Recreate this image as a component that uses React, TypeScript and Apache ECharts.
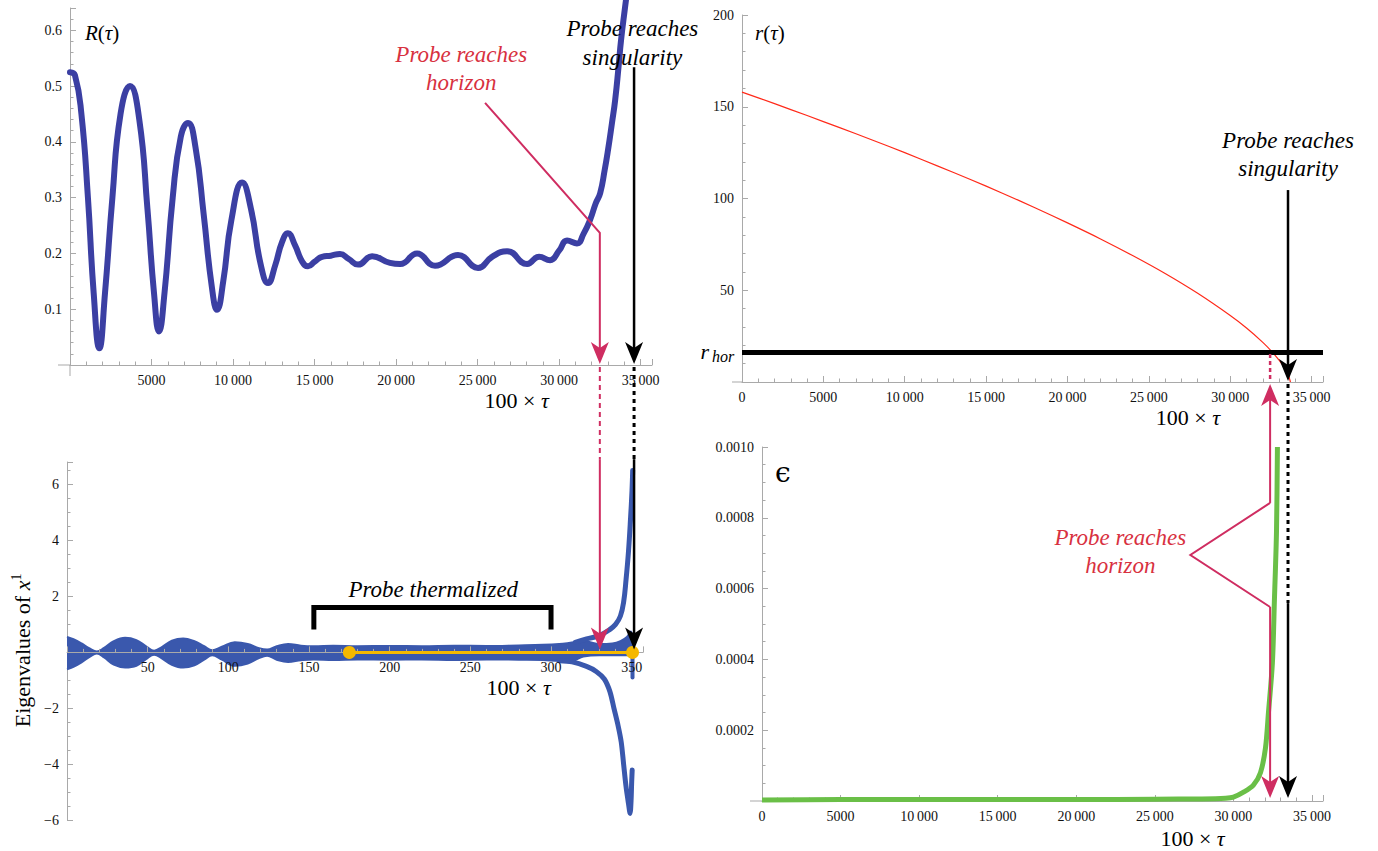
import React, { useEffect, useRef } from "react";
import * as echarts from "echarts";

// ---------------- data ----------------
// Panel A: R(tau), x = 100*tau
const R_TAU: number[] = [0, 300, 700, 1100, 1450, 1800, 2150, 2600, 3100, 3680, 4250, 4750, 5150, 5460, 5800, 6300, 6800, 7240, 7700, 8200, 8700, 9020, 9400, 9900, 10560, 11100, 11700, 12150, 12600, 13000, 13370, 13800, 14250, 14600, 15000, 15460, 16000, 16560, 17100, 17670, 18530, 19630, 20250, 21290, 22390, 23800, 25030, 25890, 26810, 28040, 28770, 29450, 30000, 30490, 31100, 31500, 31900, 32250, 32520, 32800, 33000, 33250, 33440, 33650, 33800, 34050, 34150];
const R_VAL: number[] = [0.525, 0.52, 0.45, 0.3, 0.13, 0.03, 0.13, 0.3, 0.45, 0.5, 0.44, 0.28, 0.13, 0.06, 0.13, 0.3, 0.41, 0.434, 0.39, 0.27, 0.14, 0.099, 0.15, 0.26, 0.327, 0.28, 0.18, 0.147, 0.18, 0.22, 0.236, 0.215, 0.185, 0.177, 0.185, 0.194, 0.196, 0.199, 0.19, 0.18, 0.195, 0.183, 0.181, 0.2, 0.178, 0.197, 0.174, 0.194, 0.204, 0.181, 0.194, 0.188, 0.205, 0.223, 0.218, 0.235, 0.26, 0.29, 0.308, 0.35, 0.385, 0.435, 0.475, 0.535, 0.582, 0.642, 0.665];

// Panel B: eigenvalues of x^1, x = 100*tau
const EIG_UP_X: number[] = [0, 4, 9, 14, 18.5, 23, 29, 36, 43, 49, 54, 59, 65, 72, 79, 85, 90, 96, 104, 112, 119, 124, 130, 137, 145, 153, 165, 180, 200, 220, 240, 260, 280, 295, 305, 315, 322, 330, 338, 343, 347, 349.5, 350.5];
const EIG_UP_Y: number[] = [0.55, 0.47, 0.32, 0.14, 0.03, 0.16, 0.4, 0.52, 0.44, 0.22, 0.06, 0.2, 0.42, 0.5, 0.4, 0.22, 0.08, 0.2, 0.36, 0.3, 0.15, 0.1, 0.22, 0.3, 0.24, 0.22, 0.24, 0.22, 0.23, 0.22, 0.24, 0.23, 0.25, 0.27, 0.3, 0.36, 0.38, 0.3, 0.32, 0.4, 0.55, 0.75, 0.2];
const EIG_LO_X: number[] = [0, 4, 9, 14, 18.5, 23, 29, 36, 43, 49, 54, 59, 65, 72, 79, 85, 90, 96, 104, 112, 119, 124, 130, 137, 145, 153, 165, 180, 200, 220, 240, 260, 280, 295, 305, 313, 320, 330, 340, 350.5];
const EIG_LO_Y: number[] = [-0.6, -0.52, -0.36, -0.16, -0.04, -0.18, -0.44, -0.54, -0.48, -0.24, -0.08, -0.22, -0.44, -0.54, -0.46, -0.26, -0.1, -0.26, -0.48, -0.4, -0.2, -0.12, -0.26, -0.34, -0.28, -0.25, -0.27, -0.25, -0.26, -0.25, -0.27, -0.25, -0.26, -0.27, -0.3, -0.3, -0.15, -0.1, -0.1, -0.1];
const BRANCH_UP_X: number[] = [315, 322, 330, 336, 340, 343, 345, 346.5, 348, 349.3, 350.2, 350.6];
const BRANCH_UP_Y: number[] = [0.36, 0.48, 0.6, 0.8, 1.0, 1.3, 1.8, 2.6, 3.6, 4.8, 5.8, 6.5];
const BRANCH_DN_X: number[] = [305, 313, 322, 328, 333, 336.5, 339, 341.5, 343.5, 345, 346.5, 348, 349, 349.6, 350, 350.3];
const BRANCH_DN_Y: number[] = [-0.3, -0.34, -0.5, -0.68, -0.95, -1.4, -2.0, -2.6, -3.2, -4.0, -4.8, -5.4, -5.75, -5.3, -4.6, -4.2];
const BRANCH_STUB_X: number[] = [350.5, 350.5];
const BRANCH_STUB_Y: number[] = [0, -0.9];
const THERMAL_X: number[] = [175, 350.5];
const THERMAL_Y: number[] = [0, 0];

// Panel C: r(tau)
const r_TAU: number[] = [0, 2000, 4000, 6000, 8000, 10000, 12000, 14000, 16000, 18000, 20000, 22000, 24000, 26000, 28000, 30000, 31000, 32000, 32500, 33000, 33400, 33600, 33700];
const r_VAL: number[] = [158, 151.7, 145.2, 138.6, 131.9, 125, 117.8, 110.5, 102.9, 95, 86.7, 78.1, 68.9, 59.1, 48.3, 36.2, 29.4, 21.6, 17.1, 11.9, 6.8, 3, 0];
const R_HOR = 16.3;

// Panel D: epsilon
const EPS_TAU: number[] = [0, 5000, 10000, 15000, 20000, 25000, 28000, 29500, 30000, 30640, 31270, 31720, 32040, 32230, 32480, 32610, 32740, 32800];
const EPS_VAL: number[] = [0.000003, 0.000004, 0.000004, 0.000004, 0.000004, 0.000005, 0.000006, 0.000008, 0.000011, 0.000025, 0.000045, 0.00008, 0.00015, 0.00025, 0.00039, 0.00057, 0.00076, 0.001];

// annotation anchors (data units)
const HORIZON_L = 32500;
const SING_L = 34600;
const HORIZON_R = 32450;
const SING_R = 33550;

// ---------------- styling ----------------
const SERIF = "Liberation Serif";
const GRAY = "#a9a9a9";
const BLUE_A = "#3b3fa3";
const BLUE_B = "#3a58ad";
const GOLD = "#f5b800";
const RED = "#cf2d61";
const RED_TEXT = "#d8313f";
const GREEN = "#6abf47";

const zip = (xs: number[], ys: number[]) => xs.map((x, i) => [x, ys[i]]);

const thin = (v: number) => {
  const s = String(Math.round(v));
  return Math.abs(v) >= 10000 ? s.slice(0, s.length - 3) + "\u2009" + s.slice(-3) : s;
};
const tok = (s: string) => (s === "" ? "" : "{a|" + s + "}");

function axis(o: any) {
  return {
    type: "value",
    gridIndex: o.grid,
    min: o.min,
    max: o.max,
    interval: o.interval,
    offset: o.offset || 0,
    z: o.z,
    axisLine: { show: true, onZero: false, lineStyle: { color: GRAY, width: 1 } },
    axisTick: { show: true, inside: true, length: 6, lineStyle: { color: GRAY } },
    minorTick: { show: true, splitNumber: o.minor, length: 3.5, lineStyle: { color: GRAY } },
    splitLine: { show: false },
    minorSplitLine: { show: false },
    axisLabel: {
      fontFamily: SERIF,
      fontSize: 14,
      color: "#111",
      margin: 8,
      showMinLabel: o.showMin !== false,
      showMaxLabel: !!o.showMax,
      formatter: (v: number) => tok(o.fmt(v)),
      rich: { a: { fontFamily: SERIF, fontSize: 14, color: "#111" } },
    },
  };
}

function buildOption() {
  return {
    animation: false,
    backgroundColor: "#fff",
    textStyle: { fontFamily: SERIF },
    grid: [
      { left: 70, top: 8, width: 582, height: 357, outerBoundsMode: "none" },
      { left: 67, top: 462, width: 576, height: 358.4, outerBoundsMode: "none" },
      { left: 742, top: 15, width: 581, height: 367, outerBoundsMode: "none" },
      { left: 762, top: 447, width: 561, height: 354, outerBoundsMode: "none" },
    ],
    xAxis: [
      axis({ grid: 0, min: 0, max: 35700, interval: 5000, minor: 5, showMin: false, fmt: (v: number) => thin(v) }),
      // offset lifts the axis onto y = 0 (6 units of 28 px above the grid bottom)
      axis({ grid: 1, min: 0, max: 357, interval: 50, minor: 5, showMin: false, offset: -168, z: 10, fmt: (v: number) => (v === 0 ? "" : String(v)) }),
      axis({ grid: 2, min: 0, max: 35700, interval: 5000, minor: 5, fmt: (v: number) => thin(v) }),
      axis({ grid: 3, min: 0, max: 35700, interval: 5000, minor: 5, fmt: (v: number) => thin(v) }),
    ],
    yAxis: [
      axis({ grid: 0, min: 0, max: 0.64, interval: 0.1, minor: 5, showMin: false, fmt: (v: number) => v.toFixed(1) }),
      axis({ grid: 1, min: -6, max: 6.8, interval: 2, minor: 4, fmt: (v: number) => (Math.abs(v) < 1e-9 ? "" : v < 0 ? "\u2212" + Math.abs(v) : String(v)) }),
      axis({ grid: 2, min: 0, max: 200, interval: 50, minor: 5, showMin: false, showMax: true, fmt: (v: number) => String(v) }),
      axis({ grid: 3, min: 0, max: 0.001, interval: 0.0002, minor: 4, showMin: false, showMax: true, fmt: (v: number) => v.toFixed(4) }),
    ],
    series: [
      {
        type: "line", xAxisIndex: 0, yAxisIndex: 0, data: zip(R_TAU, R_VAL), smooth: 0.5, symbol: "none", clip: false,
        lineStyle: { color: BLUE_A, width: 6, cap: "round", join: "round" },
      },
      {
        type: "line", xAxisIndex: 1, yAxisIndex: 1, data: zip(EIG_UP_X, EIG_UP_Y), smooth: 0.4, symbol: "none",
        lineStyle: { color: BLUE_B, width: 2 }, areaStyle: { color: BLUE_B, opacity: 1, origin: 0 },
      },
      {
        type: "line", xAxisIndex: 1, yAxisIndex: 1, data: zip(EIG_LO_X, EIG_LO_Y), smooth: 0.4, symbol: "none",
        lineStyle: { color: BLUE_B, width: 2 }, areaStyle: { color: BLUE_B, opacity: 1, origin: 0 },
      },
      {
        type: "line", xAxisIndex: 1, yAxisIndex: 1, data: zip(BRANCH_UP_X, BRANCH_UP_Y), smooth: 0.4, symbol: "none",
        lineStyle: { color: BLUE_B, width: 5, cap: "round" },
      },
      {
        type: "line", xAxisIndex: 1, yAxisIndex: 1, data: zip(BRANCH_DN_X, BRANCH_DN_Y), smooth: 0.3, symbol: "none",
        lineStyle: { color: BLUE_B, width: 5, cap: "round" },
      },
      {
        type: "line", xAxisIndex: 1, yAxisIndex: 1, data: zip(BRANCH_STUB_X, BRANCH_STUB_Y), symbol: "none",
        lineStyle: { color: BLUE_B, width: 4, cap: "round" },
      },
      {
        type: "line", xAxisIndex: 1, yAxisIndex: 1, data: zip(THERMAL_X, THERMAL_Y), symbol: "circle", symbolSize: 13, z: 12,
        itemStyle: { color: GOLD }, lineStyle: { color: GOLD, width: 3 },
      },
      {
        type: "line", xAxisIndex: 2, yAxisIndex: 2, data: zip(r_TAU, r_VAL), smooth: 0.3, symbol: "none",
        lineStyle: { color: "#ff2a1a", width: 1.2 },
        markLine: {
          silent: true, symbol: "none", label: { show: false },
          lineStyle: { color: "#000", width: 5, type: "solid" },
          data: [{ yAxis: R_HOR }],
        },
      },
      {
        type: "line", xAxisIndex: 3, yAxisIndex: 3, data: zip(EPS_TAU, EPS_VAL), smooth: 0.3, symbol: "none",
        lineStyle: { color: GREEN, width: 5 },
      },
    ],
  };
}

function buildGraphics(chart: any) {
  const px = (g: number, x: number, y: number) => chart.convertToPixel({ gridIndex: g }, [x, y]) as number[];
  const els: any[] = [];
  const line = (x1: number, y1: number, x2: number, y2: number, color: string, w: number, dash?: number[]) =>
    els.push({ type: "line", silent: true, z: 50, shape: { x1, y1, x2, y2 }, style: { stroke: color, lineWidth: w, lineDash: dash || null } });
  const poly = (pts: number[][], color: string, w: number) =>
    els.push({ type: "polyline", silent: true, z: 50, shape: { points: pts }, style: { stroke: color, lineWidth: w, fill: null, lineJoin: "miter" } });
  const head = (x: number, tip: number, dir: "up" | "down", color: string) => {
    const s = dir === "down" ? -1 : 1;
    els.push({
      type: "polygon", silent: true, z: 51,
      shape: { points: [[x, tip], [x - 9, tip + s * 22], [x, tip + s * 16], [x + 9, tip + s * 22]] },
      style: { fill: color },
    });
  };
  // all texts are rich text: token t = main style, n = upright, i = italic, s = superscript
  const text = (x: number, y: number, t: string, o: any = {}) => {
    const size = o.size || 22;
    const fill = o.color || "#000";
    const fam = o.family || SERIF;
    const fs = o.italic === false ? "normal" : "italic";
    const lh = o.lh || Math.round(size * 1.2);
    const body = o.raw ? t : t.split("\n").map((l) => "{t|" + l + "}").join("\n");
    els.push({
      type: "text", silent: true, z: 52, x, y, rotation: o.rotation || 0,
      style: {
        text: body, fill, fontFamily: fam, fontSize: size, fontStyle: fs,
        align: o.align || "center", verticalAlign: o.valign || "middle",
        textAlign: o.align || "center", textVerticalAlign: o.valign || "middle",
        lineHeight: lh,
        rich: {
          t: { fontFamily: fam, fontSize: size, fontStyle: fs, fill, lineHeight: lh },
          n: { fontFamily: fam, fontSize: size, fontStyle: "normal", fill, lineHeight: lh },
          i: { fontFamily: fam, fontSize: size, fontStyle: "italic", fill, lineHeight: lh },
          s: { fontFamily: fam, fontSize: 14, fontStyle: "normal", fill, verticalAlign: "top", padding: [0, 0, 10, 0] },
        },
      },
    });
  };

  // ---- left column ----
  const [x0L, y0L] = px(0, 0, 0);
  const hxL = px(0, HORIZON_L, 0)[0];
  const sxL = px(0, SING_L, 0)[0];
  const eigTop = px(1, 0, 6.9)[1];
  const eigTip = px(1, 0, 0.1)[1];
  const y0B = px(1, 0, 0)[1];

  // axis stubs (Mathematica-style crossing)
  line(x0L - 12, y0L, x0L, y0L, GRAY, 1);
  line(x0L, y0L, x0L, y0L + 11, GRAY, 1);

  const [rtX, rtY] = px(0, 24000, 0.532);
  text(rtX, rtY, "Probe reaches\nhorizon", { color: RED_TEXT, size: 23, lh: 28 });
  const d0 = px(0, 25460, 0.47);
  const kneeY = px(0, 0, 0.237)[1];
  poly([d0, [hxL, kneeY], [hxL, y0L - 15]], RED, 2);
  head(hxL, y0L - 1, "down", RED);
  line(hxL, y0L + 2, hxL, eigTop, RED, 2, [5, 4]);
  line(hxL, eigTop, hxL, eigTip - 14, RED, 2);
  head(hxL, eigTip, "down", RED);

  const [btX, btY] = px(0, 34500, 0.578);
  text(btX, btY, "Probe reaches\nsingularity", { size: 23, lh: 29 });
  line(sxL, px(0, 0, 0.534)[1], sxL, y0L - 15, "#000", 2.5);
  head(sxL, y0L - 1, "down", "#000");
  line(sxL, y0L + 2, sxL, eigTop, "#000", 3, [4, 4]);
  line(sxL, eigTop, sxL, eigTip - 14, "#000", 2.5);
  head(sxL, eigTip, "down", "#000");

  const rl0 = px(0, 920, 0.595);
  text(rl0[0], rl0[1], "{i|R}{n|(}{i|\u03c4}{n|)}", { size: 21, align: "left", raw: true });

  // thermalized bracket
  poly([px(1, 153, 0.82), px(1, 153, 1.6), px(1, 300, 1.6), px(1, 300, 0.82)], "#000", 5);
  const [thX, thY] = px(1, 227, 2.25);
  text(thX, thY, "Probe thermalized", { size: 23 });

  // eigenvalue axis title
  text(22, y0B - 2, "{n|Eigenvalues of }{i|x}{s|1}", { size: 22, rotation: Math.PI / 2, raw: true, lh: 26 });

  // x-axis titles
  const tauLabel = "{n|100 \u00d7 }{i|\u03c4}";
  const t1 = px(0, 27400, 0);
  text(t1[0], t1[1] + 35, tauLabel, { raw: true });
  const t2 = px(1, 280, 0);
  text(t2[0], t2[1] + 35, tauLabel, { raw: true });

  // ---- right column ----
  const [x0R, y0R] = px(2, 0, 0);
  const hxR = px(2, HORIZON_R, 0)[0];
  const sxR = px(2, SING_R, 0)[0];
  const yHor = px(2, 0, R_HOR)[1];
  const [x0E, y0E] = px(3, 0, 0);
  const epsTip = px(3, 0, 0.0000085)[1];

  line(x0R - 10, y0R, x0R, y0R, GRAY, 1);
  line(x0E - 12, y0E, x0E, y0E, GRAY, 1);

  const [bt2X, bt2Y] = px(2, SING_R, 124);
  text(bt2X, bt2Y, "Probe reaches\nsingularity", { size: 23, lh: 28 });
  line(sxR, px(2, 0, 104.6)[1], sxR, y0R - 15, "#000", 2.5);
  head(sxR, y0R - 1, "down", "#000");
  const dotEnd = px(3, 0, 0.000559)[1];
  line(sxR, y0R + 2, sxR, dotEnd, "#000", 3, [4, 4]);
  line(sxR, dotEnd, sxR, epsTip - 14, "#000", 2.5);
  head(sxR, epsTip, "down", "#000");

  line(hxR, yHor + 2, hxR, y0R, RED, 2.5, [4, 3]);
  head(hxR, y0R + 2, "up", RED);
  const vTop = px(3, 0, 0.000842)[1];
  const vBot = px(3, 0, 0.000548)[1];
  const vPt = px(3, 27260, 0.000695);
  line(hxR, y0R + 16, hxR, vTop, RED, 2);
  poly([[hxR, vTop], vPt, [hxR, vBot]], RED, 2);
  line(hxR, vBot, hxR, epsTip - 14, RED, 2);
  head(hxR, epsTip, "down", RED);
  const [rt2X, rt2Y] = px(3, 22800, 0.000706);
  text(rt2X, rt2Y, "Probe reaches\nhorizon", { color: RED_TEXT, size: 23, lh: 28 });

  const rl = px(2, 800, 190);
  text(rl[0], rl[1], "{i|r}{n|(}{i|\u03c4}{n|)}", { size: 21, align: "left", raw: true });
  const rh = px(2, 0, R_HOR);
  text(rh[0] - 33, rh[1] - 1, "r", { size: 22, align: "right" });
  text(rh[0] - 30, rh[1] + 4, "hor", { size: 16, align: "left" });
  const el = px(3, 830, 0.000929);
  text(el[0], el[1], "\u03f5", { size: 28, align: "left", italic: false, family: "DejaVu Serif" });

  const t3 = px(2, 27400, 0);
  text(t3[0], t3[1] + 35, tauLabel, { raw: true });
  const t4 = px(3, 27400, 0);
  text(t4[0], t4[1] + 37, tauLabel, { raw: true });

  return els;
}

export default function App() {
  const ref = useRef<HTMLDivElement>(null);
  useEffect(() => {
    if (!ref.current) return;
    const chart = echarts.init(ref.current, null, { renderer: "svg" });
    chart.setOption(buildOption() as any);
    chart.setOption({ graphic: buildGraphics(chart) } as any);
    return () => chart.dispose();
  }, []);
  return (
    <div
      ref={ref}
      style={{ position: "fixed", left: 0, top: 0, width: 1378, height: 851, background: "#fff" }}
    />
  );
}
